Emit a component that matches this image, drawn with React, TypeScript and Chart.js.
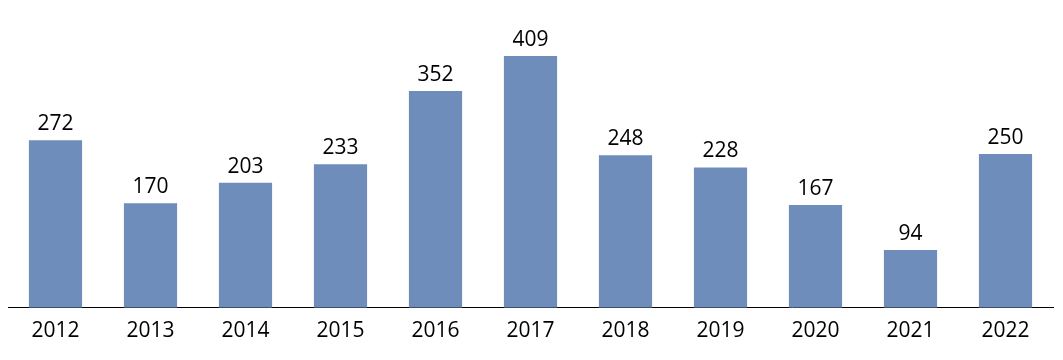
import React, { useEffect, useRef } from "react";
import { Chart, registerables } from "chart.js";

Chart.register(...registerables);

const years = ["2012", "2013", "2014", "2015", "2016", "2017", "2018", "2019", "2020", "2021", "2022"];
const counts = [272, 170, 203, 233, 352, 409, 248, 228, 167, 94, 250];
const barColor = "#6E8DBA";
const fontFamily = "'Open Sans', 'Liberation Sans', sans-serif";

const valueLabels = {
  id: "valueLabels",
  afterDatasetsDraw(chart: any) {
    const ctx = chart.ctx;
    const meta = chart.getDatasetMeta(0);
    ctx.save();
    ctx.font = `21px ${fontFamily}`;
    ctx.fillStyle = "#000000";
    ctx.textAlign = "center";
    ctx.textBaseline = "alphabetic";
    meta.data.forEach((el: any, i: number) => {
      ctx.fillText(String(counts[i]), el.x, el.y - 10);
    });
    ctx.restore();
  },
};

export default function App() {
  const ref = useRef<HTMLCanvasElement | null>(null);
  useEffect(() => {
    if (!ref.current) return;
    const chart = new Chart(ref.current, {
      type: "bar",
      data: {
        labels: years,
        datasets: [
          {
            data: counts,
            backgroundColor: barColor,
            barPercentage: 0.56,
            categoryPercentage: 1,
          },
        ],
      },
      options: {
        animation: false,
        responsive: false,
        maintainAspectRatio: false,
        layout: { padding: { left: 8, right: 10, top: 0, bottom: 13 } },
        plugins: { legend: { display: false }, tooltip: { enabled: false } },
        scales: {
          x: {
            grid: { display: false },
            border: { display: true, color: "#000000", width: 1 },
            ticks: { color: "#000000", font: { size: 21, family: fontFamily }, padding: 3 },
          },
          y: {
            display: false,
            min: 0,
            max: 500,
          },
        },
      },
      plugins: [valueLabels],
    });
    return () => chart.destroy();
  }, []);
  return (
    <div style={{ position: "absolute", left: 0, top: 0, width: 1063, height: 360, background: "#fff" }}>
      <canvas ref={ref} width={1063} height={360} style={{ width: 1063, height: 360 }} />
    </div>
  );
}
